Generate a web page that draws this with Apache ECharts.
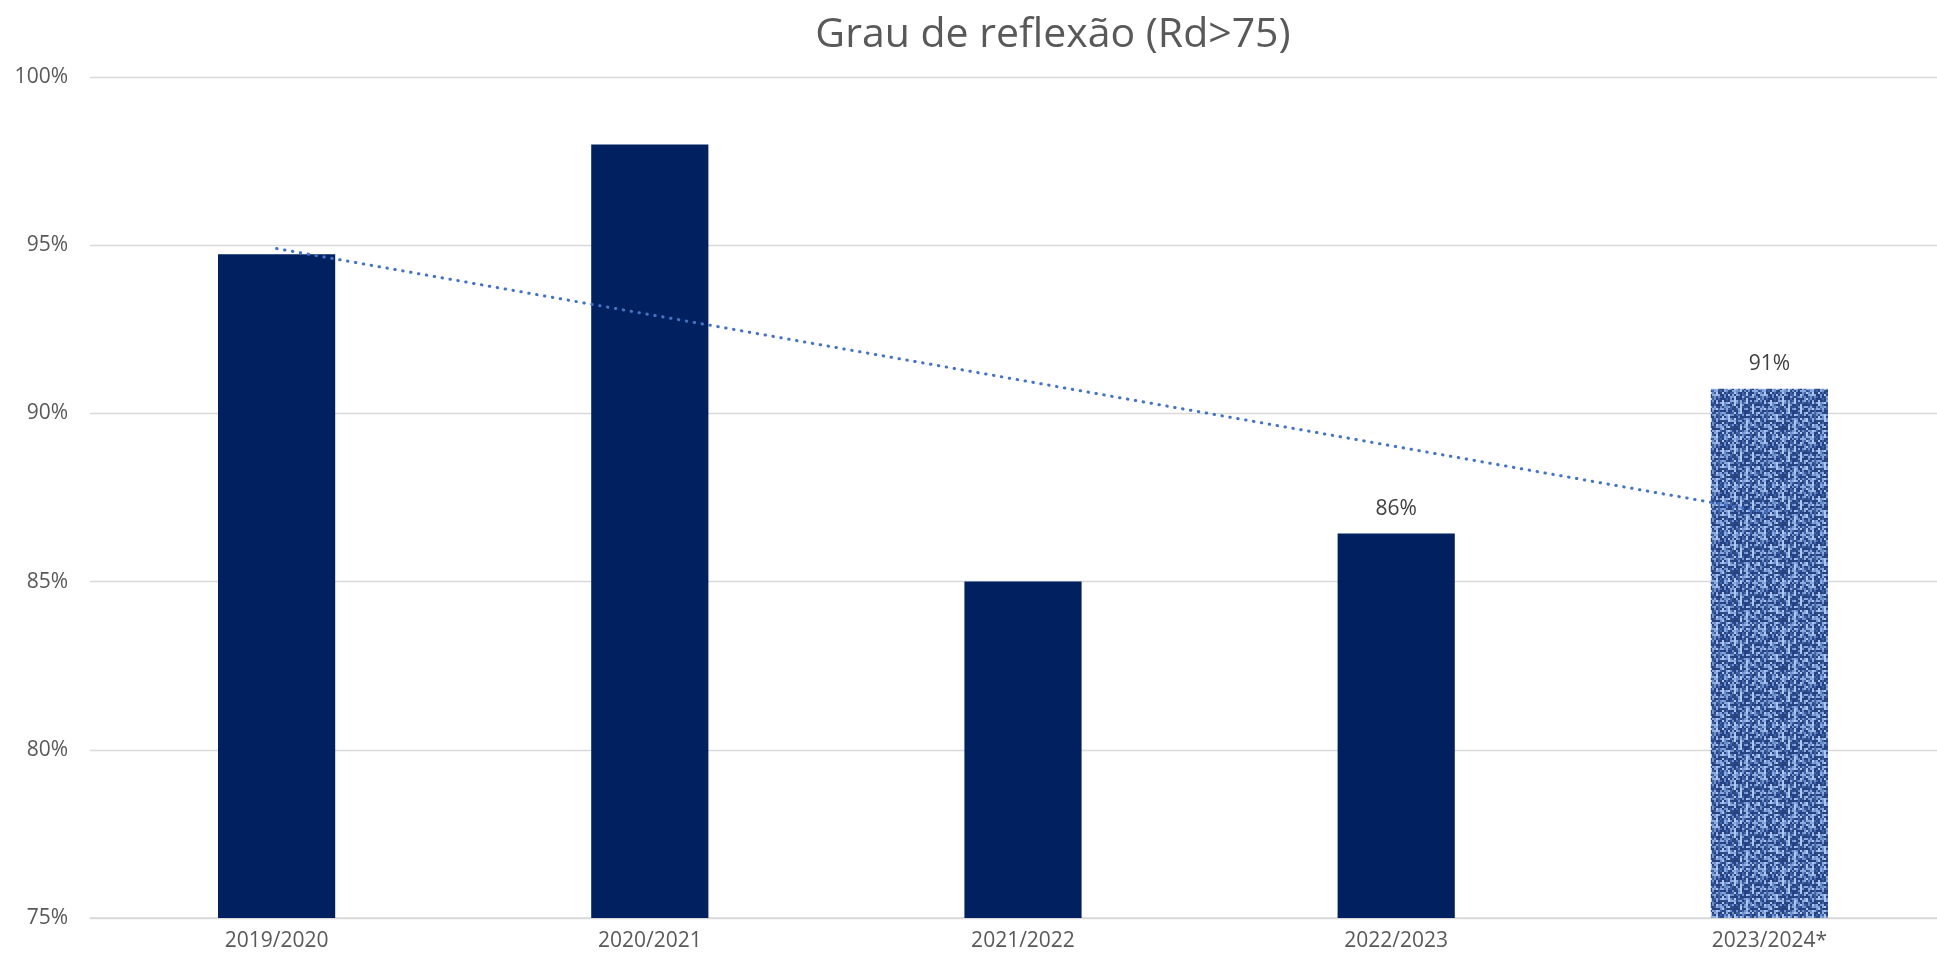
<!DOCTYPE html>
<html>
<head>
<meta charset="utf-8">
<title>Grau de reflexão (Rd>75)</title>
<script src="https://cdn.jsdelivr.net/npm/echarts@6/dist/echarts.min.js"></script>
<style>
  html, body { margin: 0; padding: 0; background: #fff; overflow: hidden; }
  #chart { width: 1960px; height: 962px; }
</style>
</head>
<body>
<div id="chart"></div>
<script>
// dados
const seasons = ['2019/2020', '2020/2021', '2021/2022', '2022/2023', '2023/2024*']
const reflexao = [94.73, 97.99, 85.0, 86.43, 90.73]
const trendEnds = [94.9, null, null, null, 87.05]   // linha de tendência (início e fim)
const yTicks = [75, 80, 85, 90, 95, 100]

// textura "tecido" azul para a última barra (estimativa, sem aleatoriedade)
function makeFabric() {
  const cell = 2
  const n = 24
  const c = document.createElement('canvas')
  c.width = cell * n
  c.height = cell * n
  const ctx = c.getContext('2d')
  const shades = ['#2F4E8C', '#5E80C0', '#8DAAE0', '#4C6DB0', '#264282', '#7C9DD8', '#4162A4', '#AFC7EE', '#6D90CE', '#3A5A9C']
  for (let y = 0; y < n; y++) {
    for (let x = 0; x < n; x++) {
      const h = (x * 73856093 ^ y * 19349663 ^ (x + y) * 83492791) >>> 0
      let k = h % shades.length
      // trama: fios verticais mais claros a cada 3 colunas
      if (x % 3 === 0 && k > 4) k = 7
      if (y % 3 === 1 && k < 3) k = 4
      ctx.fillStyle = shades[k]
      ctx.fillRect(x * cell, y * cell, cell, cell)
    }
  }
  return c
}

const chart = echarts.init(document.getElementById('chart'))
const fabric = makeFabric()

const barData = reflexao.map((v, i) => {
  const item = { value: v }
  if (i === reflexao.length - 1) {
    item.itemStyle = { color: { image: fabric, repeat: 'repeat' } }
  }
  if (i >= 3) {
    item.label = { show: true }
  }
  return item
})

chart.setOption({
  animation: false,
  title: {
    text: 'Grau de reflexão (Rd>75)',
    left: 1048,
    textAlign: 'center',
    top: 10,
    textStyle: { fontFamily: 'Open Sans', fontSize: 41, fontWeight: 'normal', color: '#595959' }
  },
  grid: { left: 90, right: 4, top: 77, bottom: 44, containLabel: false },
  xAxis: {
    type: 'category',
    data: seasons,
    axisLine: { lineStyle: { color: '#D9D9D9', width: 1.5 } },
    axisTick: { show: false },
    axisLabel: { fontFamily: 'Open Sans', fontSize: 21, color: '#595959', margin: 13 }
  },
  yAxis: {
    type: 'value',
    min: yTicks[0],
    max: yTicks[yTicks.length - 1],
    interval: 5,
    axisLine: { show: false },
    axisTick: { show: false },
    splitLine: { lineStyle: { color: '#D9D9D9', width: 1.3 } },
    axisLabel: { fontFamily: 'Open Sans', fontSize: 21, color: '#595959', margin: 22, formatter: '{value}%' }
  },
  series: [{
    type: 'bar',
    data: barData,
    barWidth: '31.4%',
    itemStyle: { color: '#002060' },
    label: {
      show: false,
      position: 'top',
      distance: 14,
      fontFamily: 'Open Sans',
      fontSize: 21,
      color: '#404040',
      formatter: p => Math.round(p.value) + '%'
    }
  }, {
    type: 'line',
    data: trendEnds,
    connectNulls: true,
    symbol: 'none',
    z: 5,
    lineStyle: { color: '#4472C4', width: 3, type: [0.5, 7.5], cap: 'round' }
  }]
})
</script>
</body>
</html>
